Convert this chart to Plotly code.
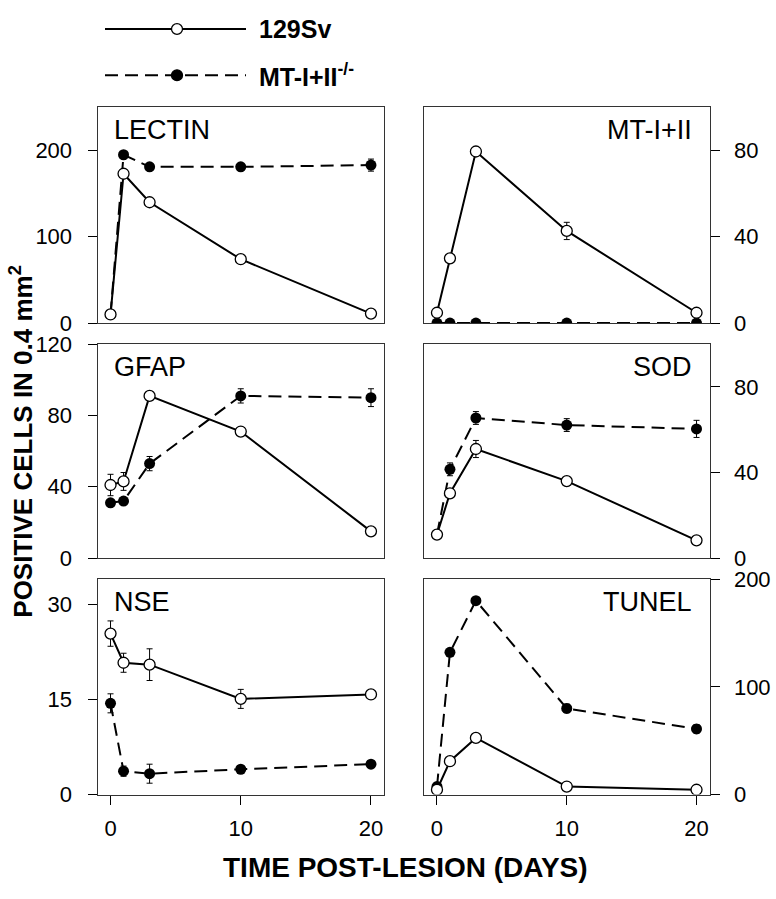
import plotly.graph_objects as go

# ---------------- data ----------------
days = [0, 1, 3, 10, 20]

lectin_wt = [10, 173, 140, 74, 11]
lectin_wt_err = [0, 0, 0, 0, 0]
lectin_ko = [10, 195, 181, 181, 183]
lectin_ko_err = [0, 0, 3, 3, 7]

mt_wt = [4.8, 30, 79.5, 42.7, 4.8]
mt_wt_err = [0, 0, 0, 4, 0]
mt_ko = [0, 0, 0, 0, 0]
mt_ko_err = [0, 0, 0, 0, 0]

gfap_wt = [41, 43, 91, 71, 15]
gfap_wt_err = [6, 5, 0, 0, 0]
gfap_ko = [31, 32, 53, 91, 90]
gfap_ko_err = [0, 0, 4, 4, 5]

sod_wt = [11, 30.3, 51, 36, 8.3]
sod_wt_err = [0, 0, 4, 2, 0]
sod_ko = [11, 41.5, 65.5, 62.2, 60.4]
sod_ko_err = [0, 3, 3, 3, 4]

nse_wt = [25.4, 20.8, 20.5, 15.1, 15.8]
nse_wt_err = [2, 1.5, 2.5, 1.5, 0]
nse_ko = [14.4, 3.7, 3.3, 4.0, 4.8]
nse_ko_err = [1.5, 0.8, 1.5, 0, 0]

tunel_wt = [4.5, 31, 52.6, 7.5, 4.5]
tunel_wt_err = [0, 0, 0, 0, 0]
tunel_ko = [7.5, 132, 180, 80, 61]
tunel_ko_err = [0, 0, 0, 4, 4]

panel_names = ["LECTIN", "MT-I+II", "GFAP", "SOD", "NSE", "TUNEL"]
panel_wt = [lectin_wt, mt_wt, gfap_wt, sod_wt, nse_wt, tunel_wt]
panel_wt_err = [lectin_wt_err, mt_wt_err, gfap_wt_err, sod_wt_err, nse_wt_err, tunel_wt_err]
panel_ko = [lectin_ko, mt_ko, gfap_ko, sod_ko, nse_ko, tunel_ko]
panel_ko_err = [lectin_ko_err, mt_ko_err, gfap_ko_err, sod_ko_err, nse_ko_err, tunel_ko_err]
panel_yrange = [[0, 250], [0, 100], [0, 120], [0, 100], [0, 34], [0, 200]]
panel_yticks = [[0, 100, 200], [0, 40, 80], [0, 40, 80, 120], [0, 40, 80], [0, 15, 30], [0, 100, 200]]
x_ticks = [0, 10, 20]

series_names = ["129Sv", "MT-I+II<sup>-/-</sup>"]

# ---------------- layout geometry ----------------
W, H = 776, 899
FONT = "Liberation Sans, Arial, Helvetica, sans-serif"
col_px = [(97.5, 384.0), (424.0, 709.5)]
row_px = [(98.0, 320.0), (341.7, 561.7), (583.3, 805.0)]
DASH = "13px,7px"

fig = go.Figure()
layout = dict(
    width=W, height=H,
    margin=dict(l=0, r=0, t=0, b=0),
    paper_bgcolor="white", plot_bgcolor="white",
    showlegend=False,
    font=dict(family=FONT, color="black"),
)
annotations = []
shapes = []

for i in range(6):
    r, c = divmod(i, 2)
    n = i + 1
    xa = "xaxis" if n == 1 else f"xaxis{n}"
    ya = "yaxis" if n == 1 else f"yaxis{n}"
    xref = "x" if n == 1 else f"x{n}"
    yref = "y" if n == 1 else f"y{n}"
    x0, x1 = col_px[c]
    y0, y1 = row_px[r]
    bottom = (r == 2)
    layout[xa] = dict(
        domain=[x0 / W, x1 / W], anchor=yref, range=[-1, 21],
        showline=True, linecolor="#333", linewidth=1, mirror=True,
        showgrid=False, zeroline=False,
        ticks="outside" if bottom else "", tickvals=x_ticks,
        showticklabels=bottom, ticklen=9, tickcolor="black", tickwidth=1,
        ticklabelstandoff=5,
        tickfont=dict(size=22, family=FONT, color="black"),
    )
    layout[ya] = dict(
        domain=[1 - y1 / H, 1 - y0 / H], anchor=xref,
        range=panel_yrange[i], side="left" if c == 0 else "right",
        showline=True, linecolor="#333", linewidth=1, mirror=True,
        showgrid=False, zeroline=False,
        ticks="outside", tickvals=panel_yticks[i], ticklen=9,
        tickcolor="black", tickwidth=1, ticklabelstandoff=11 if c == 0 else 10,
        tickfont=dict(size=22, family=FONT, color="black"),
    )
    # knockout (filled, dashed)
    fig.add_trace(go.Scatter(
        x=days, y=panel_ko[i], xaxis=xref, yaxis=yref, mode="lines+markers",
        name=series_names[1],
        line=dict(color="black", width=2, dash=DASH),
        marker=dict(symbol="circle", size=11, color="black"),
        error_y=dict(type="data", array=panel_ko_err[i], visible=True,
                     thickness=1, width=3, color="black"),
    ))
    # wild type (open, solid)
    fig.add_trace(go.Scatter(
        x=days, y=panel_wt[i], xaxis=xref, yaxis=yref, mode="lines+markers",
        name=series_names[0],
        line=dict(color="black", width=2),
        marker=dict(symbol="circle", size=11, color="white",
                    line=dict(color="black", width=1.3)),
        error_y=dict(type="data", array=panel_wt_err[i], visible=True,
                     thickness=1, width=3, color="black"),
    ))
    # panel label
    annotations.append(dict(
        text=panel_names[i], xref=f"{xref} domain", yref=f"{yref} domain",
        x=0.05 if c == 0 else 0.945, y=0.893,
        xanchor="left" if c == 0 else "right", yanchor="middle",
        showarrow=False, font=dict(size=27, family=FONT, color="black"),
    ))

# axis titles
annotations.append(dict(
    text="<b>POSITIVE CELLS IN 0.4 mm<sup>2</sup></b>", xref="paper", yref="paper",
    x=22 / W, y=1 - 442 / H, textangle=-90, showarrow=False,
    xanchor="center", yanchor="middle",
    font=dict(size=26, family=FONT, color="black"),
))
annotations.append(dict(
    text="<b>TIME POST-LESION (DAYS)</b>", xref="paper", yref="paper",
    x=405 / W, y=1 - 880 / H, showarrow=False,
    xanchor="center", yanchor="middle",
    font=dict(size=28, family=FONT, color="black"),
))

# legend (drawn as key lines + circles + labels at top)
leg_rows = [(17.5, "solid", "white"), (65.0, DASH, "black")]
for k, (ly, dash, fill) in enumerate(leg_rows):
    shapes.append(dict(type="line", xref="paper", yref="paper",
                       x0=105 / W, x1=246 / W, y0=1 - ly / H, y1=1 - ly / H,
                       line=dict(color="black", width=2, dash=dash)))
    rr = 5.5
    shapes.append(dict(type="circle", xref="paper", yref="paper",
                       x0=(177 - rr) / W, x1=(177 + rr) / W,
                       y0=1 - (ly + rr) / H, y1=1 - (ly - rr) / H,
                       fillcolor=fill, line=dict(color="black", width=1.3)))
    annotations.append(dict(
        text=f"<b>{series_names[k]}</b>", xref="paper", yref="paper",
        x=257 / W, y=1 - ly / H, xanchor="left", yanchor="middle",
        showarrow=False, font=dict(size=25, family=FONT, color="black"),
    ))

layout["annotations"] = annotations
layout["shapes"] = shapes
fig.update_layout(**layout)
fig.write_html(
    "out.html",
    config={"displayModeBar": False},
    post_script="document.body.style.margin='0';document.body.style.overflow='hidden';",
)
